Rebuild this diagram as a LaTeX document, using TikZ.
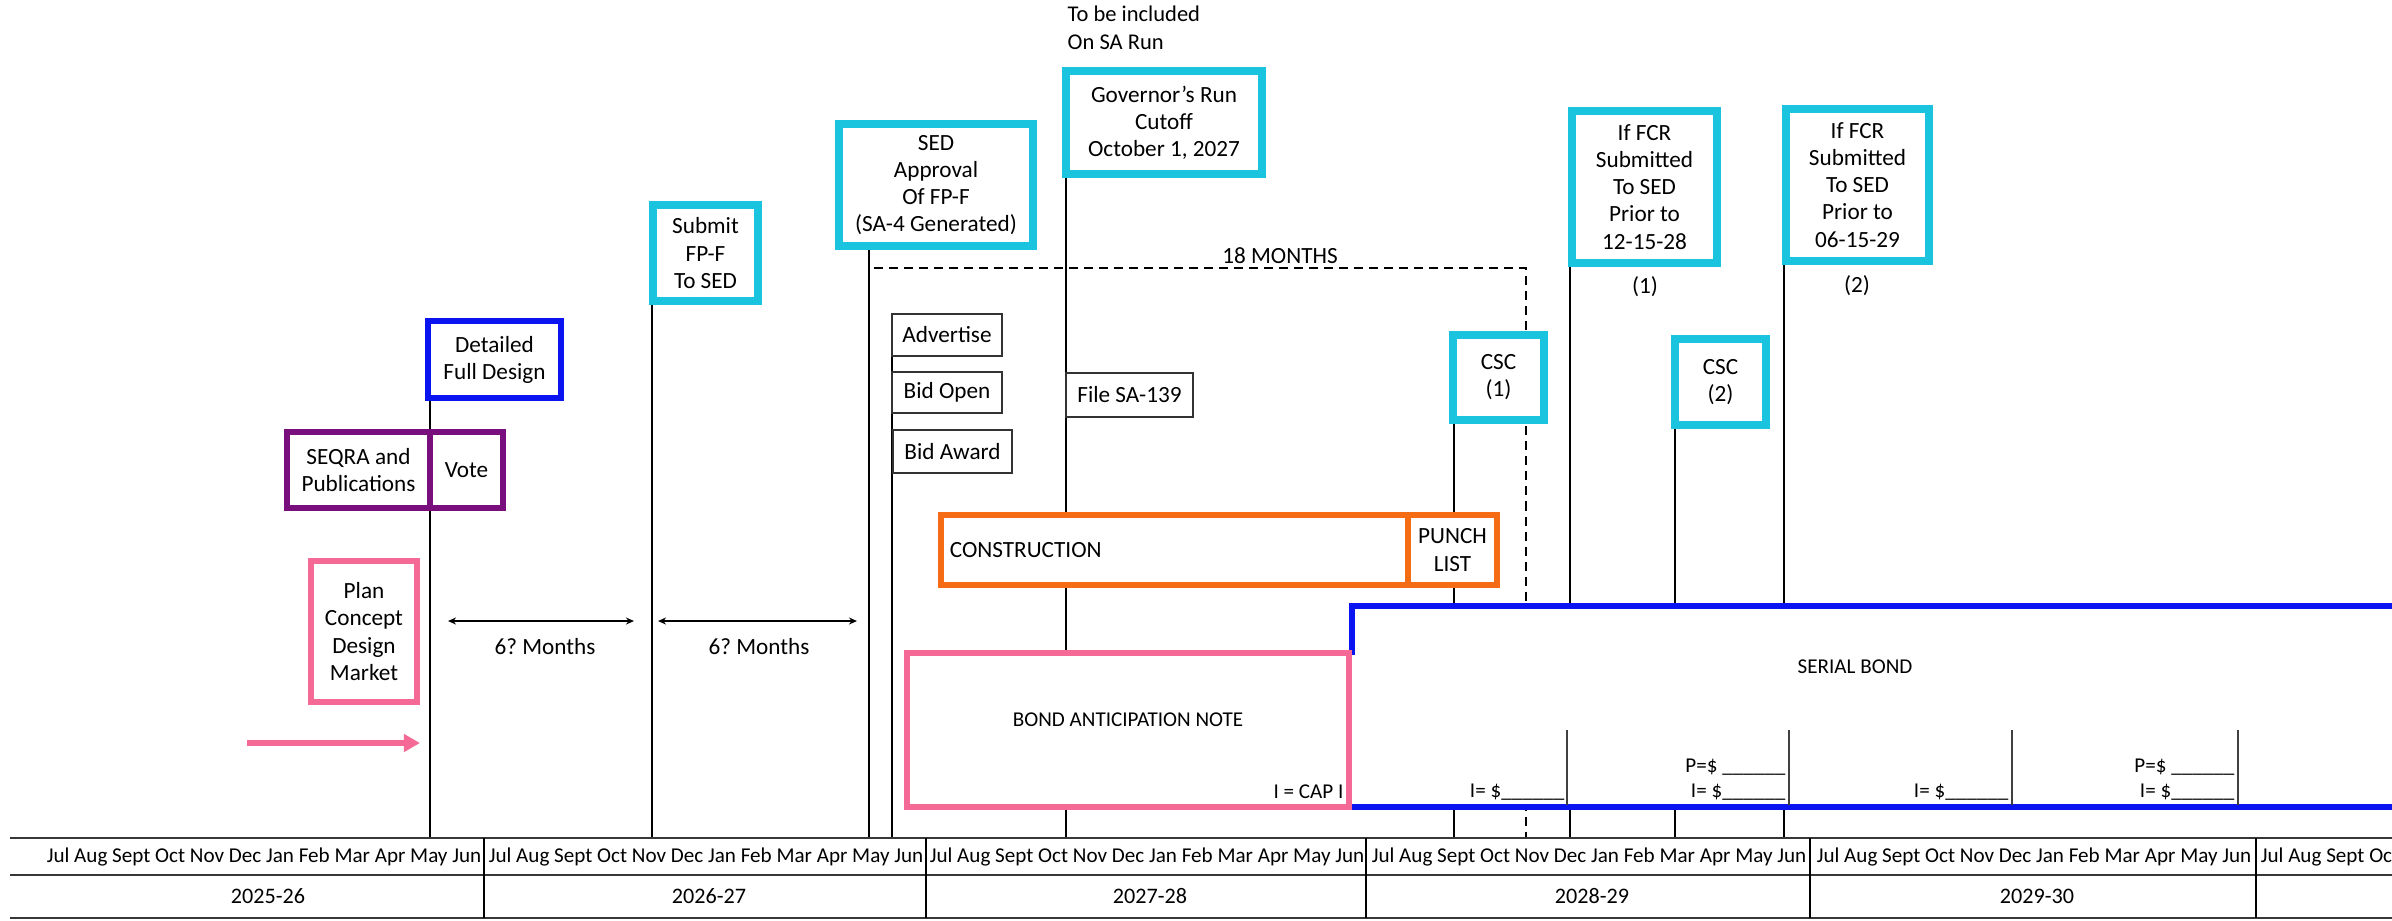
\documentclass[tikz,border=0pt]{standalone}
\usepackage{fontspec}
\setmainfont{Carlito}
\usetikzlibrary{arrows.meta}
\pgfdeclarelayer{paper}
\pgfdeclarelayer{background}
\pgfsetlayers{paper,background,main}
\definecolor{cyanc}{RGB}{26,196,222}
\definecolor{bluec}{RGB}{10,20,240}
\definecolor{purplec}{RGB}{120,15,125}
\definecolor{orangec}{RGB}{245,108,20}
\definecolor{pinkc}{RGB}{245,105,150}
\definecolor{tablec}{RGB}{55,55,55}
\frenchspacing
\tikzset{
  base/.style={font=\fontsize{6.6}{7.7}\selectfont, inner sep=0pt, align=center, fill=white},
  cyanbox/.style={base, draw=cyanc, line width=0.08cm},
  bluebox/.style={base, draw=bluec, line width=0.06cm},
  purplebox/.style={base, draw=purplec, line width=0.06cm},
  pinkbox/.style={base, draw=pinkc, line width=0.06cm},
  orangebox/.style={base, draw=orangec, line width=0.06cm},
  thinbox/.style={base, draw=black!80, line width=0.02cm},
  txt/.style={font=\fontsize{6.6}{7.7}\selectfont, inner sep=0pt, align=center},
  smalltxt/.style={font=\fontsize{6}{7}\selectfont, inner sep=0pt, align=center},
  monthtxt/.style={font=\fontsize{6}{7}\selectfont, inner sep=0pt},
  yeartxt/.style={font=\fontsize{6.3}{7.5}\selectfont, inner sep=0pt},
  evline/.style={black, line width=0.02cm},
  dashline/.style={black, line width=0.02cm, dash pattern=on 0.09cm off 0.06cm},
  tline/.style={tablec, line width=0.028cm},
  sepline/.style={black, line width=0.018cm},
  dblarrow/.style={black, line width=0.02cm, {Stealth[length=0.08cm,width=0.07cm]}-{Stealth[length=0.08cm,width=0.07cm]}},
  divline/.style={black!75, line width=0.015cm},
}
\begin{document}
\begin{tikzpicture}[x=0.01cm,y=-0.01cm]
\useasboundingbox (0,0) rectangle (2392,920);
\clip (0,0) rectangle (2392,920);
\begin{pgfonlayer}{paper}
\fill[white] (0,0) rectangle (2392,920);
\end{pgfonlayer}

% ---------- boxes ----------
\node[bluebox, minimum width=1.33cm, minimum height=0.77cm] (detailed) at (494.5,359.5) {Detailed\\Full Design};
\node[purplebox, minimum width=1.43cm, minimum height=0.76cm] (seqra) at (358.5,470) {SEQRA and\\Publications};
\node[purplebox, minimum width=0.73cm, minimum height=0.76cm] (vote) at (466.5,470) {Vote};
\node[pinkbox, minimum width=1.06cm, minimum height=1.41cm] (plan) at (364,631.5) {Plan\\Concept\\Design\\Market};
\node[cyanbox, minimum width=1.05cm, minimum height=0.96cm] (submit) at (705.5,253) {Submit\\FP-F\\To SED};
\node[cyanbox, minimum width=1.94cm, minimum height=1.22cm] (sed) at (936,185) {SED\\Approval\\Of FP-F\\(SA-4 Generated)};
\node[cyanbox, minimum width=1.96cm, minimum height=1.03cm] (gov) at (1164,122.5) {Governor’s Run\\Cutoff\\October 1, 2027};
\node[cyanbox, minimum width=1.45cm, minimum height=1.52cm] (fcr1) at (1644.5,187) {If FCR\\Submitted\\To SED\\Prior to\\12-15-28};
\node[cyanbox, minimum width=1.43cm, minimum height=1.52cm] (fcr2) at (1857.5,185) {If FCR\\Submitted\\To SED\\Prior to\\06-15-29};
\node[cyanbox, minimum width=0.91cm, minimum height=0.85cm] (csc1) at (1498.5,377.5) {CSC\\(1)};
\node[cyanbox, minimum width=0.91cm, minimum height=0.86cm] (csc2) at (1720.5,382) {CSC\\(2)};
\node[thinbox, minimum width=1.10cm, minimum height=0.42cm] (advert) at (947,335) {Advertise};
\node[thinbox, minimum width=1.10cm, minimum height=0.41cm] (bidopen) at (947,392.5) {Bid Open};
\node[thinbox, minimum width=1.19cm, minimum height=0.43cm] (bidaward) at (952.5,451.5) {Bid Award};
\node[thinbox, minimum width=1.27cm, minimum height=0.44cm] (file) at (1129.5,395) {File SA-139};
\node[orangebox, minimum height=0.70cm, text width=4.49cm, inner xsep=0.09cm, align=left] (constr) at (1174.5,550) {CONSTRUCTION};
\node[orangebox, minimum width=0.89cm, minimum height=0.70cm] (punch) at (1452.5,550) {PUNCH\\LIST};

% ---------- free texts ----------
\node[txt, anchor=north west, align=left, font=\fontsize{6.4}{8}\selectfont] (tobe) at (1067,5) {To be included\\On SA Run};
\node[txt] (n1) at (1645,287) {(1)};
\node[txt] (n2) at (1857,286) {(2)};
\node[txt] (eighteen) at (1280,256) {18 MONTHS};
\node[txt] (mo1) at (545,647) {6?\ Months};
\node[txt] (mo2) at (759,647) {6?\ Months};

% ---------- arrows ----------
\coordinate (a1l) at (448,621); \coordinate (a1r) at (634,621);
\coordinate (a2l) at (658,621); \coordinate (a2r) at (857,621);
\draw[dblarrow] (a1l) -- (a1r);
\draw[dblarrow] (a2l) -- (a2r);
\coordinate (pa1) at (247,743); \coordinate (pa2) at (420,743);
\draw[pinkc, line width=0.06cm, -{Triangle[length=0.16cm,width=0.17cm]}] (pa1) -- (pa2);

% ---------- serial bond ----------
\fill[white] (1352,606) rectangle (2392,807);
\draw[bluec, line width=0.06cm] (2400,606) -- (1352,606) -- (1352,655);
\draw[bluec, line width=0.06cm] (1349,807) -- (2400,807);
\node[smalltxt] (serial) at (1855,667) {SERIAL BOND};
\coordinate (d1t) at (1567,730); \coordinate (d2t) at (1789,730);
\coordinate (d3t) at (2012,730); \coordinate (d4t) at (2238,730);
\draw[divline] (d1t) -- (d1t |- 0,805);
\draw[divline] (d2t) -- (d2t |- 0,805);
\draw[divline] (d3t) -- (d3t |- 0,805);
\draw[divline] (d4t) -- (d4t |- 0,805);
\node[smalltxt, anchor=east] (i1) at (1565,792) {I= \$\_\_\_\_\_\_};
\node[smalltxt, anchor=east] (p2) at (1786,767) {P=\$ \_\_\_\_\_\_};
\node[smalltxt, anchor=east] (i2) at (1786,792) {I= \$\_\_\_\_\_\_};
\node[smalltxt, anchor=east] (i3) at (2009,792) {I= \$\_\_\_\_\_\_};
\node[smalltxt, anchor=east] (p4) at (2235,767) {P=\$ \_\_\_\_\_\_};
\node[smalltxt, anchor=east] (i4) at (2235,792) {I= \$\_\_\_\_\_\_};

% ---------- bond anticipation note ----------
\node[pinkbox, minimum width=4.42cm, minimum height=1.54cm] (ban) at (1128,730) {};
\node[smalltxt] (bantext) at (1128,720) {BOND ANTICIPATION NOTE};
\node[smalltxt, anchor=east] (capi) at (1344,792) {I = CAP I};

% ---------- event lines (behind) ----------
\coordinate (x1) at (430,838);
\coordinate (x2) at (652,838);
\coordinate (x3) at (869,838);
\coordinate (x4) at (892,838);
\coordinate (x5) at (1066,838);
\coordinate (x6) at (1454,838);
\coordinate (x7) at (1570,838);
\coordinate (x8) at (1675,838);
\coordinate (x9) at (1784,838);
\coordinate (dstart) at (874,268);
\coordinate (dcorner) at (1526,268);
\begin{pgfonlayer}{background}
\draw[evline] (detailed.south -| x1) -- (x1);
\draw[evline] (submit.south -| x2) -- (x2);
\draw[evline] (sed.south -| x3) -- (x3);
\draw[evline] (advert.south -| x4) -- (x4);
\draw[evline] (gov.south -| x5) -- (x5);
\draw[evline] (csc1.south -| x6) -- (x6);
\draw[evline] (fcr1.south -| x7) -- (x7);
\draw[evline] (csc2.south -| x8) -- (x8);
\draw[evline] (fcr2.south -| x9) -- (x9);
\draw[dashline] (dstart) -- (dcorner) -- (dcorner |- x1);
\end{pgfonlayer}

% ---------- table ----------
\coordinate (tl1) at (10,838); \coordinate (tr1) at (2400,838);
\coordinate (tl2) at (10,875); \coordinate (tr2) at (2400,875);
\coordinate (tl3) at (10,918); \coordinate (tr3) at (2400,918);
\draw[tline] (tl1) -- (tr1);
\draw[tline] (tl2) -- (tr2);
\draw[tline] (tl3) -- (tr3);
\foreach \sx in {484,926,1366,1810,2256} {
  \draw[sepline] (\sx,838) -- (\sx,918);
}
\foreach \mx/\nm in {264/m0,706/m1,1147/m2,1589/m3,2034/m4,2478/m5} {
  \node[monthtxt] (\nm) at (\mx,856.5) {Jul Aug Sept Oct Nov Dec Jan Feb Mar Apr May Jun};
}
\node[yeartxt] (y0) at (268,896) {2025-26};
\node[yeartxt] (y1) at (709,896) {2026-27};
\node[yeartxt] (y2) at (1150,896) {2027-28};
\node[yeartxt] (y3) at (1592,896) {2028-29};
\node[yeartxt] (y4) at (2037,896) {2029-30};
\end{tikzpicture}
\end{document}
